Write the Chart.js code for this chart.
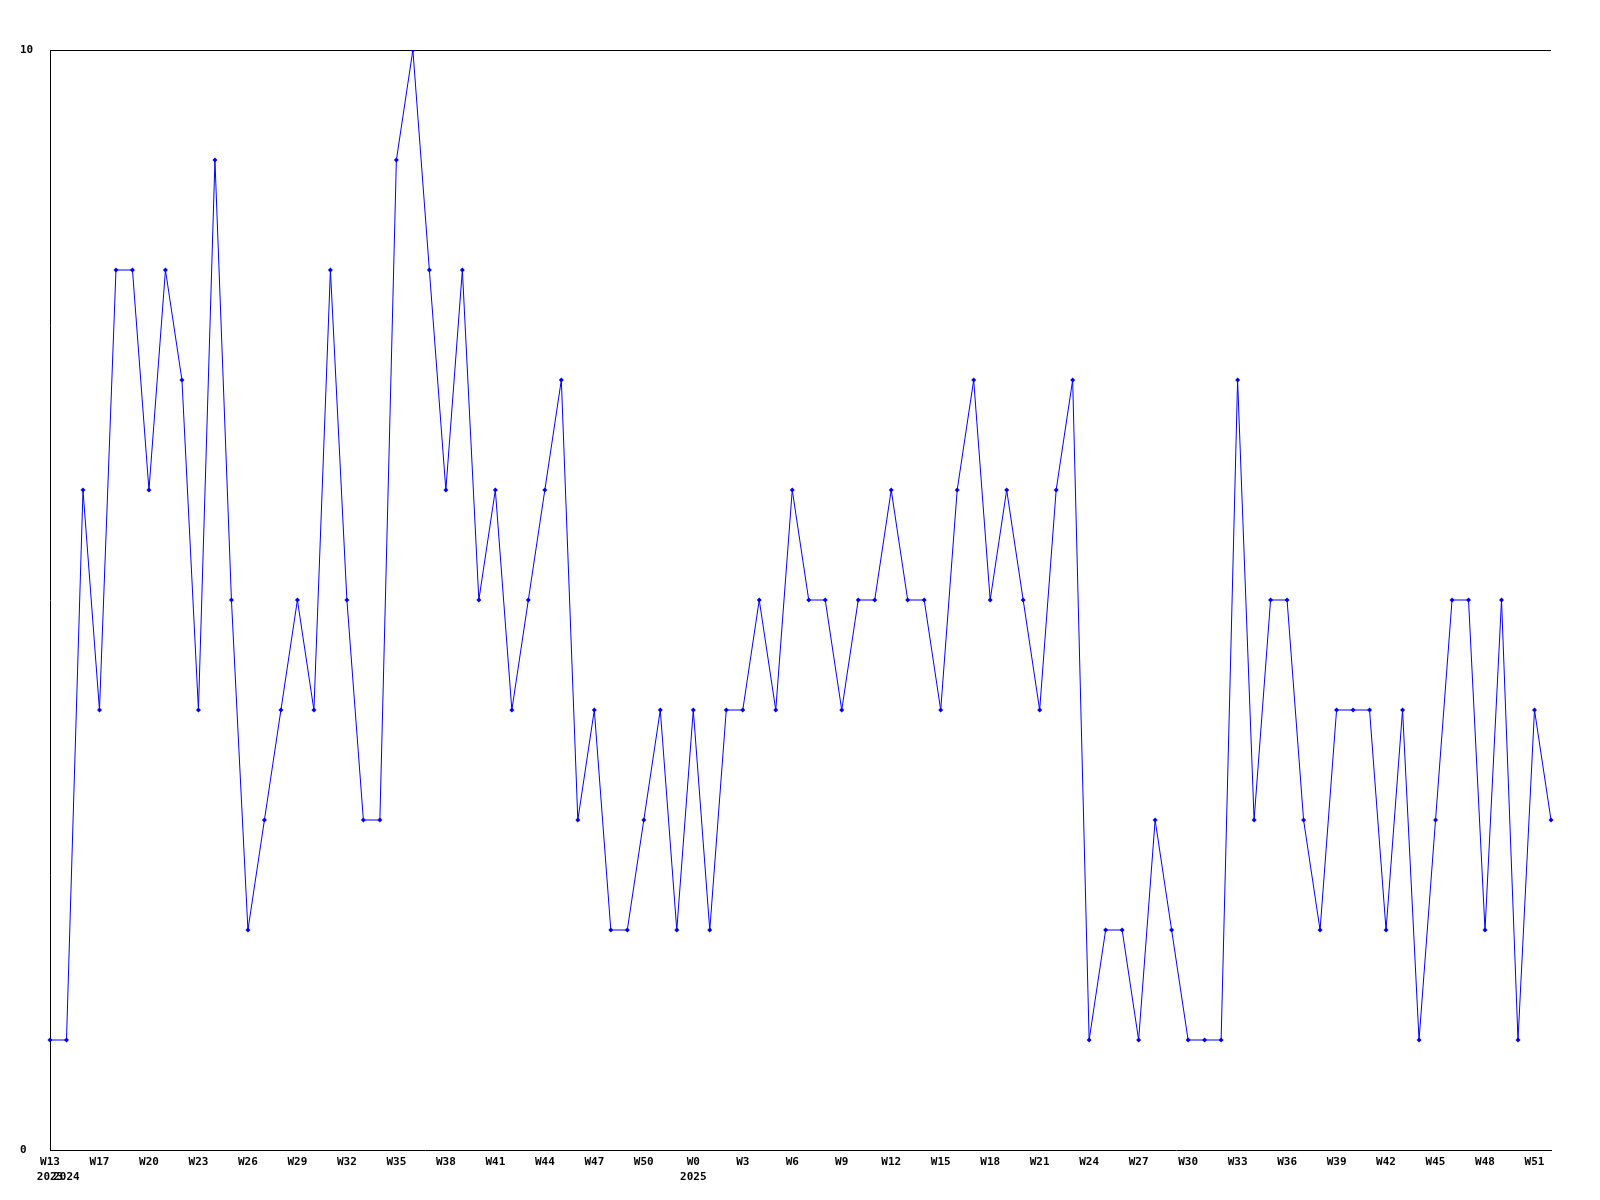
<!DOCTYPE html>
<html>
<head>
<meta charset="utf-8">
<title>Weekly line</title>
<script src="https://cdn.jsdelivr.net/npm/chart.js@4.4.1/dist/chart.umd.min.js"></script>
<style>
    html, body { margin: 0; padding: 0; background: #ffffff; }
    #wrap { width: 1600px; height: 1200px; }
</style>
</head>
<body>
<div id="wrap"><canvas id="weekChart"></canvas></div>
<script>
// ─── DATA ───
const weeks = [
    'W13', 'W15', 'W16', 'W17', 'W18', 'W19', 'W20', 'W21', 'W22', 'W23',
    'W24', 'W25', 'W26', 'W27', 'W28', 'W29', 'W30', 'W31', 'W32', 'W33',
    'W34', 'W35', 'W36', 'W37', 'W38', 'W39', 'W40', 'W41', 'W42', 'W43',
    'W44', 'W45', 'W46', 'W47', 'W48', 'W49', 'W50', 'W51', 'W52',
    'W0', 'W1', 'W2', 'W3', 'W4', 'W5', 'W6', 'W7', 'W8', 'W9', 'W10',
    'W11', 'W12', 'W13', 'W14', 'W15', 'W16', 'W17', 'W18', 'W19', 'W20',
    'W21', 'W22', 'W23', 'W24', 'W25', 'W26', 'W27', 'W28', 'W29', 'W30',
    'W31', 'W32', 'W33', 'W34', 'W35', 'W36', 'W37', 'W38', 'W39', 'W40',
    'W41', 'W42', 'W43', 'W44', 'W45', 'W46', 'W47', 'W48', 'W49', 'W50',
    'W51', 'W52'
];
// year shown under the first week of each year
const yearMarks = { 0: '2023', 1: '2024', 39: '2025' };

const values = [
    1, 1, 6, 4, 8, 8, 6, 8, 7, 4,
    9, 5, 2, 3, 4, 5, 4, 8, 5, 3,
    3, 9, 10, 8, 6, 8, 5, 6, 4, 5,
    6, 7, 3, 4, 2, 2, 3, 4, 2, 4,
    2, 4, 4, 5, 4, 6, 5, 5, 4, 5,
    5, 6, 5, 5, 4, 6, 7, 5, 6, 5,
    4, 6, 7, 1, 2, 2, 1, 3, 2, 1,
    1, 1, 7, 3, 5, 5, 3, 2, 4, 4,
    4, 2, 4, 1, 3, 5, 5, 2, 5, 1,
    4, 3
];
const yTicks = [0, 10];

// ─── CHART ───
const tickFont = { family: "'DejaVu Sans Mono', monospace", size: 11, weight: 'bold', lineHeight: 1.35 };

new Chart(document.getElementById('weekChart'), {
    type: 'line',
    data: {
        labels: weeks,
        datasets: [{
            data: values,
            borderColor: '#0000ff',
            backgroundColor: '#0000ff',
            borderWidth: 1,
            tension: 0,
            pointStyle: 'rectRot',
            pointRadius: 2.5,
            pointBorderWidth: 0,
            pointHoverRadius: 3,
            fill: false,
        }]
    },
    options: {
        responsive: true,
        maintainAspectRatio: false,
        animation: false,
        layout: { padding: { left: 20, top: 50, right: 49, bottom: 0 } },
        plugins: {
            legend: { display: false },
            tooltip: { enabled: false },
        },
        scales: {
            x: {
                offset: false,
                afterFit: s => { s.height = 50; },
                grid: { display: false, drawTicks: false },
                border: { display: true, color: '#000000', width: 1 },
                ticks: {
                    autoSkip: false,
                    maxRotation: 0,
                    minRotation: 0,
                    padding: 5,
                    color: '#000000',
                    font: tickFont,
                    callback: (v, i) => {
                        const wk = i % 3 === 0 ? weeks[i] : '';
                        if (yearMarks[i]) return [wk, yearMarks[i]];
                        return wk;
                    },
                },
            },
            y: {
                min: 0,
                max: 10,
                afterFit: s => { s.width = 30; },
                afterBuildTicks: s => { s.ticks = yTicks.map(v => ({ value: v })); },
                grid: {
                    drawTicks: false,
                    color: c => (c.tick && c.tick.value === 10 ? '#000000' : 'rgba(0,0,0,0)'),
                    lineWidth: 1,
                },
                border: { display: true, color: '#000000', width: 1 },
                ticks: {
                    crossAlign: 'far',
                    padding: 0,
                    color: '#000000',
                    font: tickFont,
                },
            },
        },
    }
});
</script>
</body>
</html>
